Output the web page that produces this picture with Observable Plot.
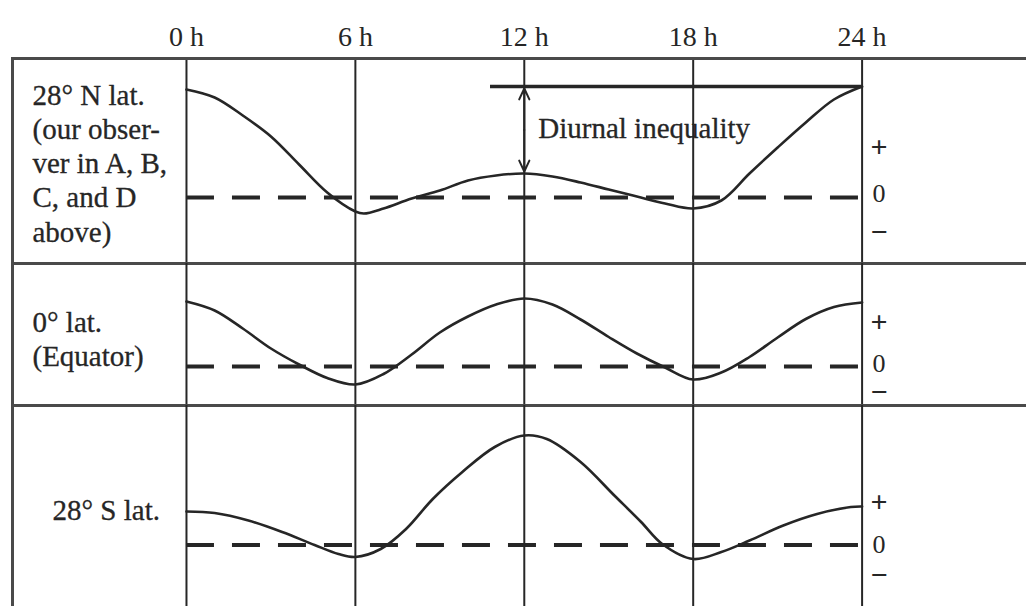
<!DOCTYPE html>
<html><head><meta charset="utf-8">
<script src="https://cdn.jsdelivr.net/npm/d3@7"></script>
<script src="https://cdn.jsdelivr.net/npm/@observablehq/plot@0.6"></script>
<style>
body{margin:0;background:#fff;}
#chart{position:relative;width:1026px;height:606px;overflow:hidden;background:#fff;font-family:"Liberation Serif",serif;}
#chart svg{position:absolute;left:0;background:transparent;}
</style></head><body><div id="chart"></div>
<script>
// ---- data ----
const hourTicks = [0, 6, 12, 18, 24];
const tickLabels = ["0 h", "6 h", "12 h", "18 h", "24 h"];

const north28Hours  = [0, 1, 2, 3, 4, 5, 6, 6.3, 7, 8, 9, 10, 11, 12, 13, 14, 15, 16, 17, 18, 19, 20, 21, 22, 23, 24];
const north28Values = [10.8, 10.0, 8.2, 6.1, 3.3, 0.5, -1.4, -1.6, -1.1, -0.1, 0.7, 1.7, 2.2, 2.4, 2.1, 1.5, 0.8, 0.1, -0.6, -1.1, -0.3, 2.4, 5.0, 7.5, 9.8, 11.1];

const equatorHours  = [0, 1, 2, 3, 4, 5, 6, 7, 8, 9, 10, 11, 12, 13, 14, 15, 16, 17, 18, 19, 20, 21, 22, 23, 24];
const equatorValues = [6.5, 5.6, 3.8, 1.8, 0.2, -1.15, -1.8, -0.75, 1.2, 3.4, 5.0, 6.2, 6.8, 6.2, 4.7, 2.95, 1.3, -0.1, -1.3, -0.6, 0.95, 2.9, 4.75, 5.95, 6.4];

const south28Hours  = [0, 1.0, 2.2, 3.4, 4.55, 5.4, 6.0, 6.9, 7.8, 8.75, 9.8, 10.95, 12, 12.8, 14.0, 15.2, 16.15, 16.9, 18.0, 19.0, 20.0, 21.2, 22.4, 23.6, 24];
const south28Values = [3.35, 3.2, 2.45, 1.3, 0.0, -0.9, -1.2, -0.4, 1.6, 4.6, 7.3, 9.8, 10.95, 10.6, 8.3, 4.95, 2.3, 0.1, -1.4, -0.7, 0.45, 1.95, 3.1, 3.8, 3.85];

const panelLabels = [
  "28° N lat.\n(our obser-\nver in A, B,\nC, and D\nabove)",
  "0° lat.\n(Equator)",
  "28° S lat."
];
const signLabels = ["+", "0", "−"];
const north28SignLevels = [5.0, 0.4, -3.5];
const equatorSignLevels = [4.4, 0.3, -2.6];
const south28SignLevels = [4.3, 0.0, -3.05];

const inequalityLabel = "Diurnal inequality";
const inequalityHour = 12;
const inequalityTop = 11.1;     // level of the higher high water
const inequalityBottom = 2.4;   // level of the lower high water
const inequalityLineFrom = 10.8;

// ---- drawing ----
const INK = "#262626";
const FRAME = "#4a4a4a";
// frame spans the whole width (left border to page edge); hours 0..24 sit inside it
const xScale = {domain: [-6.18, 29.84]};

function rows(hours, values) { return hours.map((h, i) => ({hour: h, level: values[i]})); }
function signRows(levels) { return levels.map((v, i) => ({hour: 24, level: v, sign: signLabels[i]})); }

function panel(o) {
  const marks = [
    Plot.ruleX(hourTicks, {stroke: INK, strokeWidth: 2}),
    Plot.frame({anchor: "left", stroke: FRAME, strokeWidth: 3}),
    Plot.ruleY([{level: 0, a: 0, b: 24}], {y: "level", x1: "a", x2: "b", stroke: INK, strokeWidth: 4, strokeDasharray: "28,18"}),
    Plot.line(o.data, {x: "hour", y: "level", curve: "catmull-rom", stroke: INK, strokeWidth: 2.6}),
    Plot.text(o.signs.filter(d => d.sign !== "0"), {x: "hour", y: "level", text: "sign", dx: 17, fill: INK, fontSize: 30, fontWeight: "bold"}),
    Plot.text(o.signs.filter(d => d.sign === "0"), {x: "hour", y: "level", text: "sign", dx: 17, fill: INK, fontSize: 26}),
    Plot.text([o.label], {frameAnchor: "top-left", dx: o.labelDx, dy: o.labelDy, lineAnchor: "top", textAnchor: "start", fontSize: 29, lineHeight: 1.18, fill: INK, stroke: INK, strokeWidth: 0.3})
  ];
  if (o.top) marks.push(Plot.frame({anchor: "top", stroke: FRAME, strokeWidth: 3}));
  if (o.bottom) marks.push(Plot.frame({anchor: "bottom", stroke: FRAME, strokeWidth: 3}));
  if (o.axis) marks.push(Plot.axisX(hourTicks, {anchor: "top", tickSize: 0, tickPadding: 13, fontSize: 28, fill: INK, stroke: INK, strokeWidth: 0.3, tickFormat: d => tickLabels[hourTicks.indexOf(d)]}));
  if (o.extra) marks.push(...o.extra);
  const svg = Plot.plot({
    width: 1026, height: o.height,
    marginLeft: 12, marginRight: 0, marginTop: o.marginTop, marginBottom: o.marginBottom,
    x: {...xScale, axis: null},
    y: {domain: o.yDomain, axis: null},
    style: {fontFamily: "Liberation Serif, serif", background: "transparent", overflow: "visible"},
    marks
  });
  svg.style.top = o.topPx + "px";
  return svg;
}

const chart = document.getElementById("chart");
const mid = (inequalityTop + inequalityBottom) / 2;

chart.append(panel({
  data: rows(north28Hours, north28Values), signs: signRows(north28SignLevels), label: panelLabels[0],
  labelDx: 20, labelDy: 22, height: 266, marginTop: 58, marginBottom: 3, yDomain: [-6.6, 13.9], topPx: 0,
  top: true, bottom: true, axis: true,
  extra: [
    Plot.ruleY([{level: inequalityTop, a: inequalityLineFrom, b: 24}], {y: "level", x1: "a", x2: "b", stroke: INK, strokeWidth: 3.5}),
    Plot.arrow([{hour: inequalityHour, a: mid, b: inequalityTop}, {hour: inequalityHour, a: mid, b: inequalityBottom}],
      {x1: "hour", x2: "hour", y1: "a", y2: "b", stroke: INK, strokeWidth: 2, headLength: 9, headAngle: 50, insetEnd: 2}),
    Plot.text([{hour: inequalityHour, level: 6.9, t: inequalityLabel}], {x: "hour", y: "level", text: "t", dx: 14, textAnchor: "start", fontSize: 29, fill: INK, stroke: INK, strokeWidth: 0.3})
  ]
}));

chart.append(panel({
  data: rows(equatorHours, equatorValues), signs: signRows(equatorSignLevels), label: panelLabels[1],
  labelDx: 20, labelDy: 44, height: 148, marginTop: 3, marginBottom: 3, yDomain: [-3.9, 10.3], topPx: 260,
  top: false, bottom: true, axis: false
}));

chart.append(panel({
  data: rows(south28Hours, south28Values), signs: signRows(south28SignLevels), label: panelLabels[2],
  labelDx: 40, labelDy: 90, height: 204, marginTop: 3, marginBottom: 0, yDomain: [-6.15, 13.95], topPx: 402,
  top: false, bottom: false, axis: false
}));
</script>
</body></html>
